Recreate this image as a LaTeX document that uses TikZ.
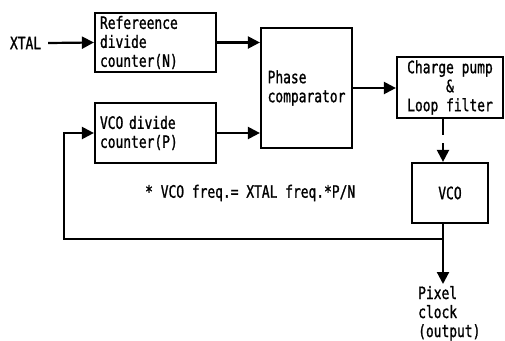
\documentclass[tikz,border=0pt]{standalone}
\usepackage{fontspec}
\newfontfamily\diafont[FakeStretch=0.76,FakeBold=1.2]{DejaVu Sans Mono}
\usetikzlibrary{arrows.meta,calc}
\begin{document}
\begin{tikzpicture}[x=1pt,y=-1pt,
  every node/.style={font=\diafont\fontsize{17}{19}\selectfont},
  block/.style={draw,line width=2.2pt,inner sep=0pt},
  arr/.style={line width=2.2pt,-{Triangle[length=12pt,width=12pt]}},
  wire/.style={line width=2.2pt}]
\useasboundingbox (0,0) rectangle (505,340);

% blocks
\node[block,align=left,text width=111pt,inner xsep=5pt,minimum height=59pt]
  (ref) at (155.5,42.5) {Refereence\\divide\\counter(N)};
\node[block,align=left,text width=111pt,inner xsep=5pt,minimum height=60pt]
  (vdiv) at (155.5,133) {VCO divide\\counter(P)};
\node[block,align=left,minimum width=91pt,minimum height=120pt]
  (pc) at (306.5,88) {Phase\\comparator};
\node[block,align=center,minimum width=106pt,minimum height=61pt]
  (cp) at (450,87.5) {Charge pump\\\&\\Loop filter};
\node[block,minimum width=76pt,minimum height=60pt]
  (vco) at (450,193) {VCO};

% labels
\node[anchor=west,inner sep=0pt,outer xsep=7pt] (xtal) at (3,43) {XTAL};
\node[anchor=west,inner sep=0pt] (note) at (145,193) {* VCO freq.= XTAL freq.*P/N};
\node[anchor=north west,align=left,inner sep=0pt,outer ysep=2pt] (pix) at (418,284)
  {Pixel\\clock\\(output)};

% helper points of the feedback loop
\coordinate (j) at (443,239);
\coordinate (lc) at (64,239);

% connectors
\draw[arr] (xtal.east) -- (ref.west);
\draw[arr] (ref.east) -- (ref.east -| pc.west);
\draw[arr] (vdiv.east) -- (vdiv.east -| pc.west);
\draw[arr] (pc.east) -- (pc.east -| cp.west);
\draw[arr,dash pattern=on 16pt off 8pt on 60pt] (cp.south -| j) -- (vco.north -| j);
\draw[arr] (vco.south -| j) -- (j |- pix.north);
\draw[arr] (j) -- (lc) |- (vdiv.west);
\end{tikzpicture}
\end{document}
